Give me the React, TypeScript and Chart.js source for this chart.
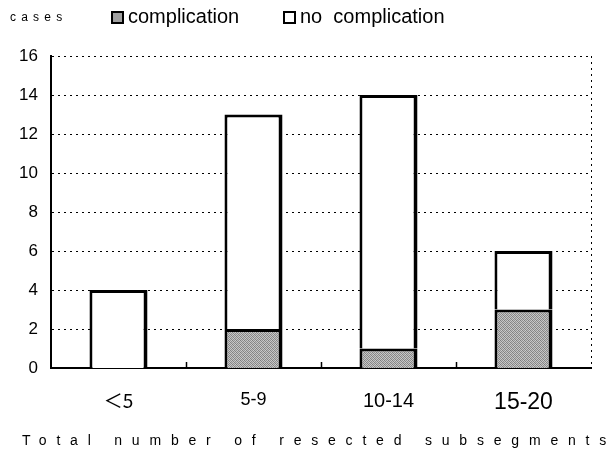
import React, { useEffect, useRef } from "react";
import { Chart, registerables } from "chart.js";

Chart.register(...registerables);

const categories = ["＜5", "5-9", "10-14", "15-20"];
const complication = [0, 2, 1, 3];
const noComplication = [4, 11, 13, 3];
const yTicks = [0, 2, 4, 6, 8, 10, 12, 14, 16];
const categoryFontSizes = [19, 18, 20, 23];

const FONT = "'Liberation Sans', Arial, sans-serif";
const CJK_FONT = "'Noto Sans CJK JP', 'Liberation Sans', sans-serif";

function stipplePattern(): CanvasPattern | string {
  const c = document.createElement("canvas");
  c.width = 4;
  c.height = 4;
  const g = c.getContext("2d");
  if (!g) return "#a0a0a0";
  const shades = [
    "#7e7e7e", "#c0c0c0", "#929292", "#cccccc",
    "#c4c4c4", "#868686", "#c8c8c8", "#8e8e8e",
    "#949494", "#cecece", "#828282", "#bcbcbc",
    "#c6c6c6", "#8c8c8c", "#c2c2c2", "#848484",
  ];
  shades.forEach((s, i) => {
    g.fillStyle = s;
    g.fillRect(i % 4, Math.floor(i / 4), 1, 1);
  });
  const p = g.createPattern(c, "repeat");
  return p || "#a0a0a0";
}

// Dotted right border plus short upward ticks between categories
const framePlugin = {
  id: "frame",
  afterDraw(chart: any) {
    const { ctx, chartArea } = chart;
    const x = chart.scales.x;
    ctx.save();
    ctx.strokeStyle = "#000";
    ctx.lineWidth = 1;
    ctx.setLineDash([2, 4]);
    ctx.beginPath();
    ctx.moveTo(chartArea.right + 0.5, chartArea.top);
    ctx.lineTo(chartArea.right + 0.5, chartArea.bottom);
    ctx.stroke();
    ctx.setLineDash([]);
    ctx.lineWidth = 1.5;
    for (let i = 1; i < categories.length; i++) {
      const bx = Math.round((x.getPixelForValue(i - 1) + x.getPixelForValue(i)) / 2) + 0.5;
      ctx.beginPath();
      ctx.moveTo(bx, chartArea.bottom);
      ctx.lineTo(bx, chartArea.bottom - 6);
      ctx.stroke();
    }
    ctx.restore();
  },
};

export default function App() {
  const ref = useRef<HTMLCanvasElement>(null);

  useEffect(() => {
    document.body.style.margin = "0";
    const canvas = ref.current;
    if (!canvas) return;
    const fill = stipplePattern();
    const border = { left: 3, right: 4, top: 3, bottom: 0 };
    const chart = new Chart(canvas, {
      type: "bar",
      data: {
        labels: categories,
        datasets: [
          {
            label: "complication",
            data: complication,
            backgroundColor: fill as any,
            borderColor: "#000",
            borderWidth: border,
            borderSkipped: false,
            barPercentage: 0.43,
            categoryPercentage: 1,
          },
          {
            label: "no complication",
            data: noComplication,
            backgroundColor: "#fff",
            borderColor: "#000",
            borderWidth: border,
            borderSkipped: false,
            barPercentage: 0.43,
            categoryPercentage: 1,
          },
        ],
      },
      options: {
        animation: false,
        responsive: false,
        maintainAspectRatio: false,
        layout: { padding: { top: 56, right: 22, left: 0, bottom: 0 } },
        plugins: {
          legend: { display: false },
          tooltip: { enabled: false },
        },
        scales: {
          x: {
            stacked: true,
            grid: { display: false, drawTicks: false },
            border: { color: "#000", width: 2 },
            ticks: {
              color: "#000",
              padding: 21,
              font: (ctx: any) => ({
                family: ctx.index === 0 ? CJK_FONT : FONT,
                size: categoryFontSizes[ctx.index] ?? 18,
              }),
            },
            afterFit: (s: any) => {
              s.height = 89;
            },
          },
          y: {
            stacked: true,
            min: 0,
            max: 16,
            afterBuildTicks: (s: any) => {
              s.ticks = yTicks.map((v) => ({ value: v }));
            },
            grid: {
              color: "#000",
              lineWidth: (ctx: any) => (ctx.tick && ctx.tick.value === 0 ? 0 : 1),
              drawTicks: false,
            },
            border: { color: "#000", width: 2, dash: [2, 4] },
            ticks: {
              color: "#000",
              padding: 13,
              font: { family: FONT, size: 17 },
            },
            afterFit: (s: any) => {
              s.width = 51;
            },
          },
        },
      },
      plugins: [framePlugin],
    } as any);
    return () => chart.destroy();
  }, []);

  const sq = (bg: string): React.CSSProperties => ({
    display: "inline-block",
    width: 13,
    height: 13,
    border: "2px solid #000",
    background: bg,
    boxSizing: "border-box",
    marginRight: 4,
    verticalAlign: "-1px",
  });

  return (
    <div style={{ position: "relative", width: 613, height: 457, background: "#fff", fontFamily: FONT, color: "#000" }}>
      <canvas ref={ref} width={613} height={457} style={{ position: "absolute", left: 0, top: 0 }} />
      <div style={{ position: "absolute", left: 10, top: 10, fontSize: 12, letterSpacing: 5.2 }}>cases</div>
      <div style={{ position: "absolute", left: 111, top: 5, fontSize: 20, whiteSpace: "nowrap" }}>
        <span style={sq("#a0a0a0")} />complication
      </div>
      <div style={{ position: "absolute", left: 283, top: 5, fontSize: 20, whiteSpace: "nowrap" }}>
        <span style={sq("#fff")} />no&nbsp;&nbsp;complication
      </div>
      <div style={{ position: "absolute", left: 22, top: 432, fontSize: 14, letterSpacing: 9.8, whiteSpace: "nowrap" }}>
        Total number of resected subsegments
      </div>
    </div>
  );
}
